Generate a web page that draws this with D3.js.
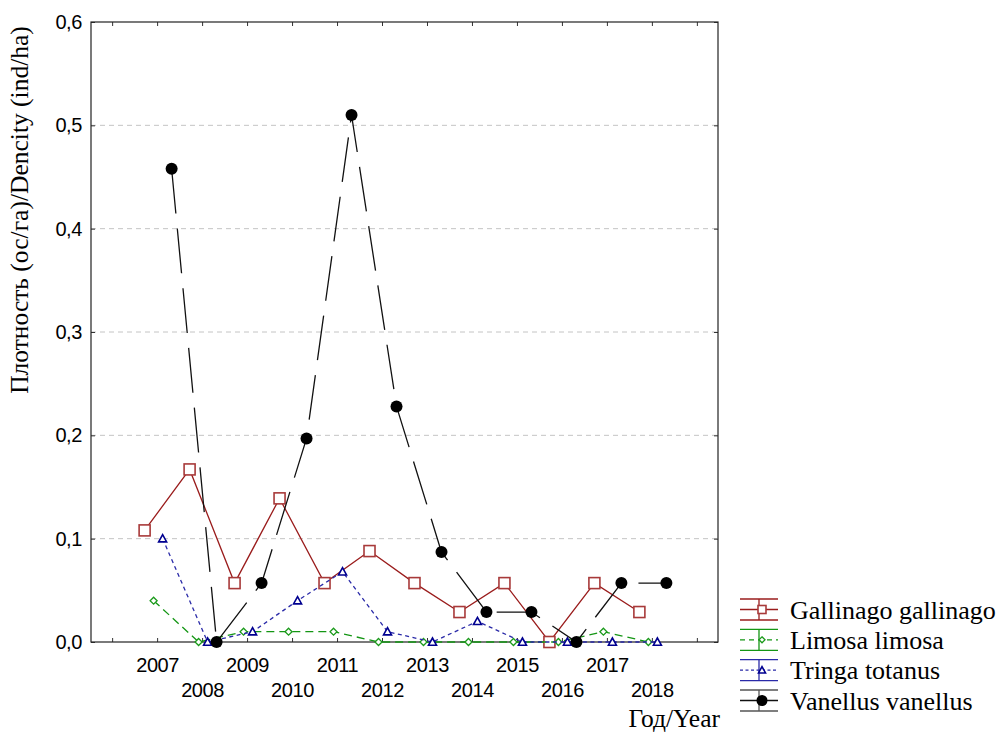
<!DOCTYPE html>
<html>
<head>
<meta charset="utf-8">
<script src="https://cdn.jsdelivr.net/npm/d3@7"></script>
<style>
  body { margin: 0; background: #fff; }
  svg text { fill: #000; }
</style>
</head>
<body>
<div id="chart"></div>
<script>
const years = [2007, 2008, 2009, 2010, 2011, 2012, 2013, 2014, 2015, 2016, 2017, 2018];
const tickYears = [2006, 2007, 2008, 2009, 2010, 2011, 2012, 2013, 2014, 2015, 2016, 2017, 2018, 2019];
const yTicks = [0, 0.1, 0.2, 0.3, 0.4, 0.5, 0.6];
const speciesNames = ['Gallinago gallinago', 'Limosa limosa', 'Tringa totanus', 'Vanellus vanellus'];

const gallinago = [0.108, 0.167, 0.057, 0.139, 0.057, 0.088, 0.057, 0.029, 0.057, 0, 0.057, 0.029];
const limosa = [0.04, 0, 0.01, 0.01, 0.01, 0, 0, 0, 0, 0, 0.01, 0];
const tringa = [0.1, 0, 0.01, 0.04, 0.068, 0.01, 0, 0.02, 0, 0, 0, 0];
const vanellus = [0.458, 0, 0.057, 0.197, 0.51, 0.228, 0.087, 0.029, 0.029, 0, 0.057, 0.057];

const seriesValues = [gallinago, limosa, tringa, vanellus];

// per-species look, Statistica style
const styles = [
  { line: '#9a1c1c', mark: '#a83a3a', dash: null, legDash: null, symbol: 'square', size: 11, legSize: 8 },
  { line: '#149614', mark: '#1a9a1a', dash: '8,5', legDash: '5,4', symbol: 'diamond', size: 7, legSize: 6 },
  { line: '#2a2aa8', mark: '#000090', dash: '4,3.5', legDash: '3,2.5', symbol: 'triangle', size: 8, legSize: 7 },
  { line: '#111', mark: '#000', dash: '45,15', legDash: null, symbol: 'circle', size: 12, legSize: 11 },
];

const W = 1000, H = 733;
const plot = { left: 91, right: 718, top: 22, bottom: 642 };

const svg = d3.select('#chart')
  .append('svg')
  .attr('width', W)
  .attr('height', H);

const x = d3.scaleLinear()
  .domain([2005.53, 2019.47])
  .range([plot.left, plot.right]);

const y = d3.scaleLinear()
  .domain([0, 0.6])
  .range([plot.bottom, plot.top]);

const offset = d3.scalePoint()
  .domain(speciesNames)
  .range([-12.5, 14.5]);

const fmt = d => d3.format('.1f')(d).replace('.', ',');

// grid
svg.append('g')
  .selectAll('line')
  .data(yTicks.filter(d => d > 0 && d < 0.6))
  .enter().append('line')
    .attr('x1', plot.left)
    .attr('x2', plot.right)
    .attr('y1', d => y(d))
    .attr('y2', d => y(d))
    .attr('stroke', '#c4c4c4')
    .attr('stroke-dasharray', '5,4');

// axes (ticks pointing inward)
const gLeft = svg.append('g')
  .attr('transform', `translate(${plot.left},0)`)
  .call(d3.axisLeft(y).tickValues(yTicks).tickFormat(fmt).tickSize(-4).tickPadding(9));
const gRight = svg.append('g')
  .attr('transform', `translate(${plot.right},0)`)
  .call(d3.axisRight(y).tickValues(yTicks).tickFormat('').tickSize(-4));
const gTop = svg.append('g')
  .attr('transform', `translate(0,${plot.top})`)
  .call(d3.axisTop(x).tickValues(tickYears).tickFormat('').tickSize(-4));
const gBottom = svg.append('g')
  .attr('transform', `translate(0,${plot.bottom})`)
  .call(d3.axisBottom(x).tickValues(tickYears).tickFormat('').tickSize(-4));
const gLabels = svg.append('g')
  .attr('transform', `translate(0,${plot.bottom})`)
  .call(d3.axisBottom(x).tickValues(years).tickFormat(d3.format('d')).tickSize(0));

[gLeft, gRight, gTop, gBottom, gLabels].forEach(g => {
  g.select('.domain').remove();
  g.selectAll('.tick line').attr('stroke', '#333');
});
gLabels.selectAll('.tick text')
  .attr('y', (d, i) => i % 2 ? 55 : 30)
  .attr('dy', 0);
svg.selectAll('.tick text')
  .attr('font-family', '"Liberation Sans", Arial, sans-serif')
  .attr('font-size', 20)
  .attr('letter-spacing', -0.4)
  .attr('fill', '#000');

svg.append('rect')
  .attr('x', plot.left)
  .attr('y', plot.top)
  .attr('width', plot.right - plot.left)
  .attr('height', plot.bottom - plot.top)
  .attr('fill', 'none')
  .attr('stroke', '#222')
  .attr('stroke-width', 1.2);

// titles
svg.append('text')
  .attr('transform', `translate(28,${(22 + 398) / 2}) rotate(-90)`)
  .attr('text-anchor', 'middle')
  .attr('font-family', '"Liberation Serif", "Times New Roman", serif')
  .attr('font-size', 25.5)
  .text('Плотность (ос/га)/Dencity (ind/ha)');

svg.append('text')
  .attr('x', 720)
  .attr('y', 727)
  .attr('text-anchor', 'end')
  .attr('font-family', '"Liberation Serif", "Times New Roman", serif')
  .attr('font-size', 25.5)
  .text('Год/Year');

function marker(sel, st, size) {
  const h = size / 2;
  if (st.symbol === 'square') {
    sel.append('rect')
      .attr('x', -h).attr('y', -h)
      .attr('width', size).attr('height', size)
      .attr('fill', '#fff')
      .attr('stroke', st.mark)
      .attr('stroke-width', 1.6);
  } else if (st.symbol === 'diamond') {
    sel.append('path')
      .attr('d', `M0,${-h}L${h},0L0,${h}L${-h},0Z`)
      .attr('fill', '#fff')
      .attr('stroke', st.mark)
      .attr('stroke-width', 1.3);
  } else if (st.symbol === 'triangle') {
    sel.append('path')
      .attr('d', `M0,${-h}L${h},${h * 0.8}L${-h},${h * 0.8}Z`)
      .attr('fill', '#fff')
      .attr('stroke', st.mark)
      .attr('stroke-width', 1.6);
  } else {
    sel.append('circle')
      .attr('r', h)
      .attr('fill', st.mark);
  }
}

// series
const line = d3.line()
  .x(d => d.px)
  .y(d => y(d.v));

speciesNames.forEach((name, s) => {
  const st = styles[s];
  const pts = seriesValues[s].map((v, i) => ({ px: x(years[i]) + offset(name), v }));
  const g = svg.append('g').attr('class', 'series');

  g.append('path')
    .datum(pts)
    .attr('d', line)
    .attr('fill', 'none')
    .attr('stroke', st.line)
    .attr('stroke-width', 1.3)
    .attr('stroke-dasharray', st.dash);

  g.selectAll('.pt')
    .data(pts)
    .enter().append('g')
      .attr('class', 'pt')
      .attr('transform', d => `translate(${d.px},${y(d.v)})`)
      .each(function() { marker(d3.select(this), st, st.size); });
});

// legend
const legY = d3.scaleLinear().domain([0, 3]).range([609.5, 700.5]);
speciesNames.forEach((name, s) => {
  const st = styles[s];
  const g = svg.append('g')
    .attr('transform', `translate(740,${legY(s)})`);
  const edge = s === 3 ? '#555' : st.line;
  [-10.5, 10.5].forEach(dy => {
    g.append('line')
      .attr('x1', 0).attr('x2', 38)
      .attr('y1', dy).attr('y2', dy)
      .attr('stroke', edge)
      .attr('stroke-width', 1.3);
  });
  g.append('line')
    .attr('x1', 19).attr('x2', 19)
    .attr('y1', -10.5).attr('y2', 10.5)
    .attr('stroke', edge)
    .attr('stroke-width', 1.3);
  g.append('line')
    .attr('x1', 0).attr('x2', 38)
    .attr('stroke', st.line)
    .attr('stroke-width', 1.3)
    .attr('stroke-dasharray', st.legDash);
  const m = g.append('g').attr('transform', 'translate(22,0)');
  marker(m, st, st.legSize);
  g.append('text')
    .attr('x', 50)
    .attr('y', 9)
    .attr('font-family', '"Liberation Serif", "Times New Roman", serif')
    .attr('font-size', 26)
    .text(name);
});
</script>
</body>
</html>
